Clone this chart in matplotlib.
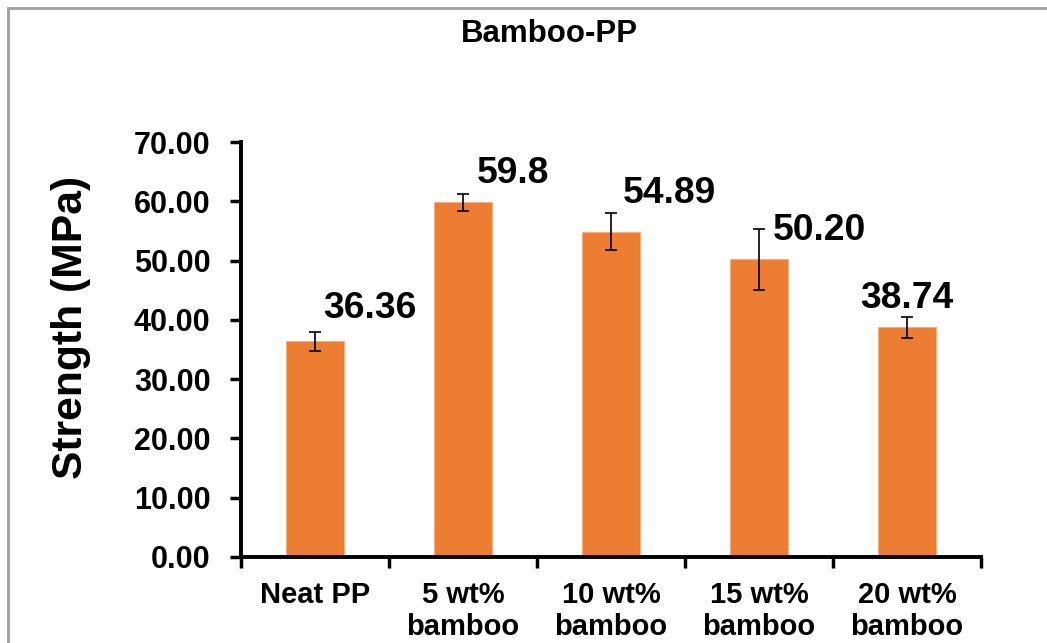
import matplotlib
matplotlib.use("Agg")
import matplotlib.pyplot as plt
from matplotlib.patches import Rectangle

categories = ["Neat PP", "5 wt%\nbamboo", "10 wt%\nbamboo", "15 wt%\nbamboo", "20 wt%\nbamboo"]
strength = [36.36, 59.8, 54.89, 50.20, 38.74]
errors = [1.6, 1.5, 3.1, 5.15, 1.8]
value_labels = ["36.36", "59.8", "54.89", "50.20", "38.74"]
yticks = [0, 10, 20, 30, 40, 50, 60, 70]

# label placement (layout only)
label_dx = [0.37, 0.335, 0.395, 0.41, 0.0]
label_y = [40.3, 63.1, 59.7, 53.5, 42.0]

plt.rcParams['font.family'] = ['Liberation Sans', 'DejaVu Sans']
plt.rcParams['font.weight'] = 'bold'

W, H = 1047, 643
fig = plt.figure(figsize=(W / 100, H / 100), dpi=100)
ax = fig.add_axes([241 / W, 1 - 557 / H, 740 / W, 415 / H])

x = list(range(len(categories)))
ax.bar(x, strength, width=0.39, color="#ED7D31", edgecolor="#F4B183", linewidth=0.8,
       yerr=errors, error_kw=dict(ecolor="black", elinewidth=1.2, capsize=4.5, capthick=1.2),
       zorder=2)

for i in x:
    ax.text(i + label_dx[i], label_y[i], value_labels[i], ha="center", va="baseline",
            fontsize=26.8, fontweight="bold", color="black")

ax.set_xlim(-0.5, len(categories) - 0.5)
ax.set_ylim(0, 70)
ax.set_yticks(yticks)
ax.set_yticklabels([f"{v:.2f}" for v in yticks], fontsize=22, fontweight="bold")
ax.set_xticks([i - 0.5 for i in range(len(categories) + 1)])
ax.set_xticklabels([])
ax.set_xticks(x, minor=True)
ax.set_xticklabels(categories, minor=True, fontsize=21, fontweight="bold", linespacing=1.2)
ax.tick_params(axis="x", which="minor", length=0, pad=17)
ax.tick_params(axis="x", which="major", length=8, width=2.5, direction="out")
ax.tick_params(axis="y", length=8, width=2.5, direction="out", pad=14)

for s in ["top", "right"]:
    ax.spines[s].set_visible(False)
for s in ["left", "bottom"]:
    ax.spines[s].set_linewidth(2.8)

ax.set_ylabel("Strength (MPa)", fontsize=30.7, fontweight="bold")
ax.yaxis.set_label_coords(-0.203, 0.552)

fig.text(549.5 / W, 1 - 42 / H, "Bamboo-PP", ha="center", va="baseline",
         fontsize=22.5, fontweight="bold")

fig.patches.append(Rectangle((8 / W, -0.1), 1.2, 1 - 8 / H + 0.1, transform=fig.transFigure,
                             fill=False, edgecolor="#A0A0A0", linewidth=2, zorder=0))

fig.savefig("out.png", dpi=100)
